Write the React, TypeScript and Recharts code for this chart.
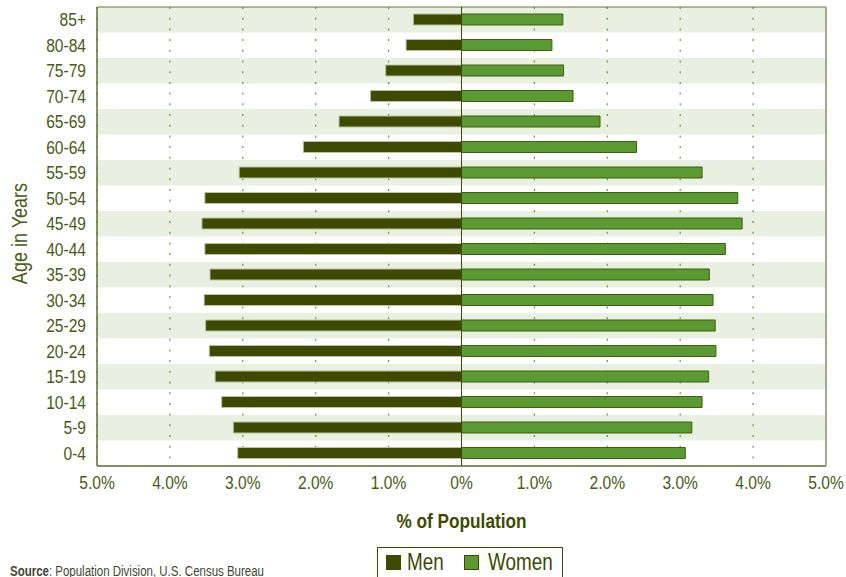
import React from 'react';
import { BarChart, Bar, XAxis, YAxis, CartesianGrid, ReferenceArea, ReferenceLine } from 'recharts';

const ageGroups = ['85+', '80-84', '75-79', '70-74', '65-69', '60-64', '55-59', '50-54', '45-49', '40-44', '35-39', '30-34', '25-29', '20-24', '15-19', '10-14', '5-9', '0-4'];
const menPct = [0.66, 0.76, 1.04, 1.25, 1.68, 2.17, 3.05, 3.52, 3.56, 3.52, 3.45, 3.53, 3.51, 3.46, 3.38, 3.29, 3.13, 3.07];
const womenPct = [1.39, 1.24, 1.40, 1.53, 1.90, 2.40, 3.30, 3.79, 3.85, 3.62, 3.40, 3.45, 3.48, 3.49, 3.39, 3.30, 3.16, 3.07];
const pctTicks = [-5, -4, -3, -2, -1, 0, 1, 2, 3, 4, 5];
const seriesNames = ['Men', 'Women'];
const seriesColors = ['#3e4a00', '#5b9a33'];
const seriesStrokes = ['#b9c0a4', '#3f5f0c'];

const FONT = "'Liberation Sans', Arial, sans-serif";
const NARROW = 0.82;
const TEXT = '#4a5a14';
const DARK = '#3e4a00';

const data = ageGroups.map((age, i) => ({ age, men: -menPct[i], women: womenPct[i] }));

const fmt = (v: number) => (v === 0 ? '0%' : Math.abs(v).toFixed(1) + '%');

const YTick = (props: any) => {
  const { x, y, payload } = props;
  return (
    <text
      x={0}
      y={0}
      transform={`translate(${x},${y}) scale(${NARROW},1)`}
      textAnchor="end"
      dominantBaseline="central"
      fill={TEXT}
      fontFamily={FONT}
      fontSize={19}
    >
      {payload.value}
    </text>
  );
};

const XTick = (props: any) => {
  const { x, y, payload } = props;
  return (
    <text
      x={0}
      y={0}
      dy="0.72em"
      transform={`translate(${x},${y}) scale(${NARROW},1)`}
      textAnchor="middle"
      fill={TEXT}
      fontFamily={FONT}
      fontSize={19}
    >
      {fmt(payload.value)}
    </text>
  );
};

const XLabel = (props: any) => {
  const vb = props.viewBox || {};
  const cx = vb.x + vb.width / 2;
  const cy = vb.y + 62;
  return (
    <text
      x={0}
      y={0}
      transform={`translate(${cx},${cy}) scale(${NARROW},1)`}
      textAnchor="middle"
      fill={DARK}
      fontFamily={FONT}
      fontWeight="bold"
      fontSize={21}
    >
      % of Population
    </text>
  );
};

const YLabel = (props: any) => {
  const vb = props.viewBox || {};
  const cx = 19;
  const cy = vb.y + vb.height / 2 - 3;
  return (
    <text
      x={0}
      y={0}
      transform={`translate(${cx},${cy}) rotate(-90) scale(${NARROW},1)`}
      textAnchor="middle"
      dominantBaseline="central"
      fill={TEXT}
      fontFamily={FONT}
      fontSize={22}
    >
      Age in Years
    </text>
  );
};

export default function App() {
  return (
    <div style={{ position: 'absolute', left: 0, top: 0, width: 846, height: 577, overflow: 'hidden', background: '#fff' }}>
      <BarChart
        width={846}
        height={577}
        data={data}
        layout="vertical"
        stackOffset="sign"
        margin={{ top: 7, right: 20, bottom: 81, left: 0 }}
      >
        {ageGroups.map((g, i) =>
          i % 2 === 0 ? (
            <ReferenceArea key={g} y1={g} y2={g} fill="#e9efe1" fillOpacity={1} stroke="none" zIndex={-200} />
          ) : null
        )}
        <CartesianGrid horizontal={false} vertical stroke="#5b9a33" strokeWidth={1.2} strokeDasharray="2 8.7" />
        <XAxis
          type="number"
          domain={[-5, 5]}
          ticks={pctTicks}
          interval={0}
          tickLine={false}
          tickSize={0}
          tickMargin={9}
          height={30}
          axisLine={{ stroke: '#5f6a2a' }}
          tick={<XTick />}
          label={<XLabel />}
        />
        <YAxis
          type="category"
          dataKey="age"
          width={97}
          interval={0}
          tickLine={false}
          tickSize={0}
          tickMargin={11}
          axisLine={{ stroke: '#5f6a2a' }}
          tick={<YTick />}
          label={<YLabel />}
        />
        <Bar dataKey="men" name={seriesNames[0]} stackId="pop" barSize={11} fill={seriesColors[0]} stroke={seriesStrokes[0]} strokeWidth={1} isAnimationActive={false} />
        <Bar dataKey="women" name={seriesNames[1]} stackId="pop" barSize={11} fill={seriesColors[1]} stroke={seriesStrokes[1]} strokeWidth={1} isAnimationActive={false} />
        <ReferenceArea x1={-5} x2={5} fill="none" stroke="#6b7440" strokeWidth={1} />
        <ReferenceLine x={0} stroke={DARK} strokeWidth={1} />
        <ReferenceLine x={5} stroke="#a3aa8c" strokeWidth={2} />
      </BarChart>

      <div
        style={{
          position: 'absolute',
          left: 377,
          top: 547,
          width: 186,
          height: 34,
          border: `1px solid ${DARK}`,
          boxSizing: 'border-box',
          fontFamily: FONT,
          fontSize: 23,
          color: DARK,
        }}
      >
        {seriesNames.map((n, i) => (
          <React.Fragment key={n}>
            <span
              style={{
                position: 'absolute',
                left: i === 0 ? 8 : 86,
                top: 7,
                width: 15,
                height: 15,
                background: seriesColors[i],
                border: `1px solid ${DARK}`,
                boxSizing: 'border-box',
              }}
            />
            <span
              style={{
                position: 'absolute',
                left: i === 0 ? 29 : 110,
                top: 1,
                lineHeight: '26px',
                whiteSpace: 'nowrap',
                transform: `scaleX(${NARROW})`,
                transformOrigin: 'left center',
              }}
            >
              {n}
            </span>
          </React.Fragment>
        ))}
      </div>

      <div
        style={{
          position: 'absolute',
          left: 10,
          top: 563,
          fontFamily: FONT,
          fontSize: 14,
          color: '#3f4530',
          whiteSpace: 'nowrap',
          lineHeight: '16px',
          transform: `scaleX(${NARROW})`,
          transformOrigin: 'left center',
        }}
      >
        <b>Source</b>: Population Division, U.S. Census Bureau
      </div>
    </div>
  );
}
